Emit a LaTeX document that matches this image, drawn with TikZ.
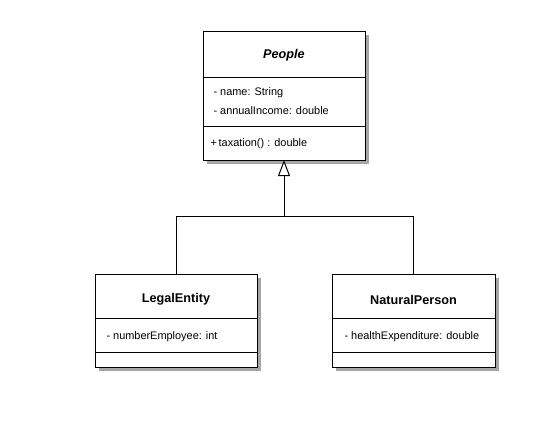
\documentclass[tikz,border=0pt]{standalone}
\usepackage{fontspec}
\setmainfont{Liberation Sans}
\usetikzlibrary{shadows,arrows.meta}
\tikzset{every picture/.style={line width=0.75pt}}
\tikzset{
  classbox/.style={draw, fill=white, inner sep=0pt, outer sep=0pt, anchor=north west,
    drop shadow={shadow xshift=3pt, shadow yshift=-3pt, fill=black!35, opacity=1}},
  classname/.style={inner sep=0.75pt, font=\fontsize{9.5}{11}\selectfont\bfseries},
  member/.style={anchor=west, inner sep=0.75pt, font=\fontsize{8.2}{10}\selectfont},
  inherit/.style={-{Triangle[open, fill=white, length=12pt, width=9pt]}}
}

\begin{document}
\begin{tikzpicture}[x=0.75pt,y=0.75pt,yscale=-1,xscale=1]
\path[use as bounding box] (0,0) rectangle (548,446);

%Class boxes
\node [classbox, minimum width=121.5pt, minimum height=96.75pt] (people) at (203,31) {};
\node [classbox, minimum width=121.5pt, minimum height=69.75pt] (legal) at (95,274) {};
\node [classbox, minimum width=122.25pt, minimum height=69.75pt] (natural) at (332,274) {};

%Straight Lines: compartments
\draw (203,77) -- (365,77) ;
\draw (203,126) -- (365,126) ;
\draw (95,318) -- (257,318) ;
\draw (95,352) -- (257,352) ;
\draw (332,318) -- (495,318) ;
\draw (332,352) -- (495,352) ;

% Text Node
\node [classname] (peoplename) at (284,55.5) {\itshape People};
% Text Node
\node [member] (peoplename1) at (212,93) {- name: String};
% Text Node
\node [member] (peopleincome) at (212,110.5) {- annualIncome: double};
% Text Node
\node [member] (peopletax) at (209,143.5) {+\,taxation() : double};
% Text Node
\node [classname] (legalname) at (176,299.5) {LegalEntity};
% Text Node
\node [member] (legalemployee) at (105,337) {- numberEmployee: int};
% Text Node
\node [classname] (naturalname) at (413.5,299.5) {NaturalPerson};
% Text Node
\node [member] (naturalhealth) at (343,337) {- healthExpenditure: double};

%Generalization
\coordinate (junction) at (284,216);
\draw (legal.north) -- (legal.north |- junction) -- (natural.north |- junction) -- (natural.north) ;
\draw [inherit] (junction) -- (people.south) ;

\end{tikzpicture}
\end{document}
